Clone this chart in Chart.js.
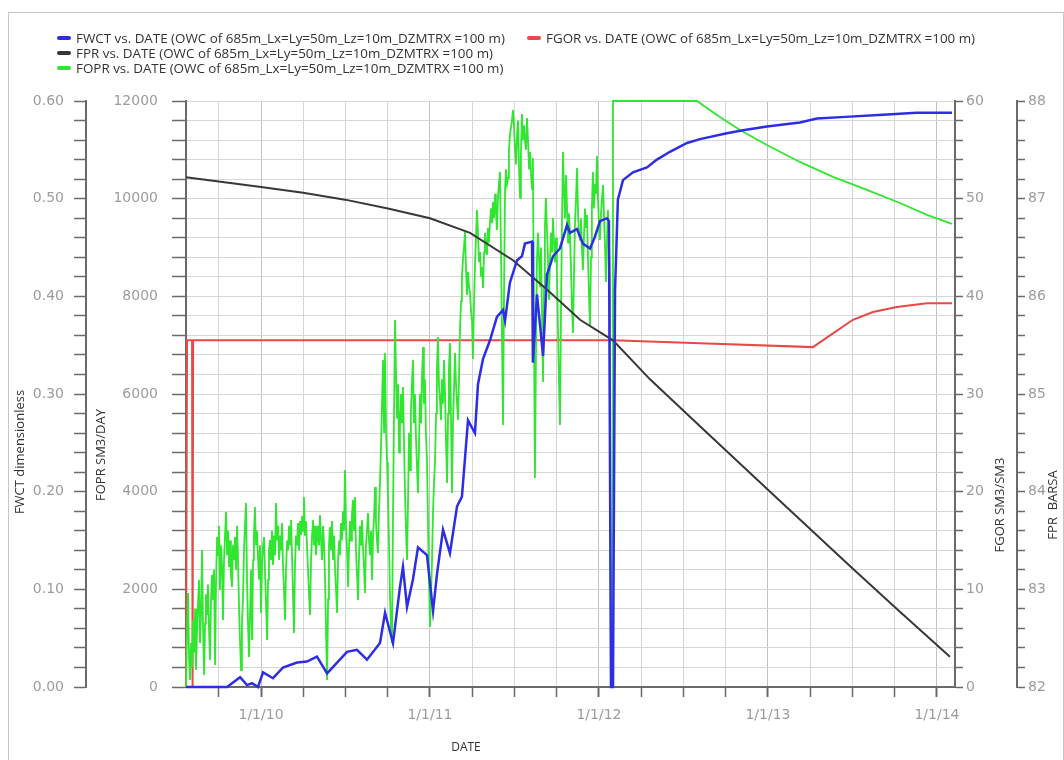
<!DOCTYPE html>
<html lang="en">
<head>
    <meta charset="UTF-8">
    <title>FWCT / FOPR / FGOR / FPR vs. DATE</title>
    <style>
        body {
            margin: 0;
            background: #fff;
            overflow: hidden;
            font-family: 'Open Sans', sans-serif;
        }
        #wrap {
            position: relative;
            width: 1064px;
            height: 760px;
        }
        #frame {
            position: absolute;
            left: 8px;
            top: 12px;
            width: 1054px;
            height: 770px;
            border: 1px solid #c6c6c6;
        }
        #chart {
            position: absolute;
            left: 0;
            top: 0;
        }
        .item {
            position: absolute;
            white-space: nowrap;
            font-size: 13.4px;
            line-height: 15px;
            color: #333;
        }
        .swatch {
            display: inline-block;
            width: 14px;
            height: 4px;
            border-radius: 2px;
            vertical-align: middle;
            margin-right: 5px;
            position: relative;
            top: -1px;
        }
    </style>
    <script src="https://cdn.jsdelivr.net/npm/chart.js"></script>
</head>
<body>
<div id="wrap">
    <div id="frame"></div>
    <canvas id="chart" width="1064" height="760"></canvas>
    <div id="legend"></div>
</div>

<script>
    // dates are decimal years
    const caseName = '(OWC of 685m_Lx=Ly=50m_Lz=10m_DZMTRX =100 m)';

    const fwctDates = [2009.556, 2009.799, 2009.876, 2009.917, 2009.947, 2009.982, 2010.012, 2010.071, 2010.130, 2010.213,
        2010.272, 2010.331, 2010.391, 2010.450, 2010.509, 2010.568, 2010.627, 2010.704, 2010.734, 2010.781,
        2010.822, 2010.840, 2010.864, 2010.899, 2010.929, 2010.982, 2011.018, 2011.041, 2011.077, 2011.118,
        2011.160, 2011.189, 2011.225, 2011.266, 2011.284, 2011.314, 2011.355, 2011.396, 2011.432, 2011.444,
        2011.473, 2011.515, 2011.544, 2011.562, 2011.604, 2011.609, 2011.633, 2011.651, 2011.669, 2011.692,
        2011.728, 2011.769, 2011.811, 2011.828, 2011.870, 2011.905, 2011.947, 2011.976, 2012.006, 2012.047,
        2012.059, 2012.071, 2012.083, 2012.095, 2012.112, 2012.142, 2012.201, 2012.284, 2012.343, 2012.420,
        2012.521, 2012.598, 2012.757, 2012.852, 2012.994, 2013.189, 2013.290, 2013.485, 2013.680, 2013.882,
        2014.089];
    const fwctValues = [0, 0, 0.010, 0.002, 0.004, 0, 0.015, 0.009, 0.020, 0.025,
        0.026, 0.031, 0.014, 0.025, 0.036, 0.038, 0.028, 0.045, 0.076, 0.045,
        0.102, 0.123, 0.082, 0.110, 0.143, 0.135, 0.078, 0.115, 0.161, 0.137,
        0.185, 0.195, 0.273, 0.260, 0.310, 0.336, 0.355, 0.379, 0.386, 0.375,
        0.414, 0.437, 0.441, 0.454, 0.456, 0.332, 0.402, 0.371, 0.339, 0.422,
        0.441, 0.449, 0.473, 0.465, 0.469, 0.454, 0.449, 0.461, 0.477, 0.480,
        0.477, 0, 0, 0.406, 0.499, 0.519, 0.527, 0.532, 0.540, 0.548,
        0.557, 0.561, 0.567, 0.570, 0.574, 0.578, 0.582, 0.584, 0.586, 0.588,
        0.588];

    const foprDates = [
        2009.556, 2009.562, 2009.568, 2009.574, 2009.580, 2009.586, 2009.592, 2009.598, 2009.604, 2009.610,
        2009.615, 2009.621, 2009.627, 2009.633, 2009.639, 2009.645, 2009.651, 2009.657, 2009.663, 2009.669,
        2009.674, 2009.680, 2009.686, 2009.692, 2009.698, 2009.704, 2009.710, 2009.716, 2009.722, 2009.728,
        2009.734, 2009.740, 2009.746, 2009.751, 2009.757, 2009.763, 2009.769, 2009.775, 2009.781, 2009.787,
        2009.793, 2009.799, 2009.805, 2009.811, 2009.817, 2009.822, 2009.828, 2009.834, 2009.840, 2009.846,
        2009.852, 2009.858, 2009.864, 2009.870, 2009.876, 2009.882, 2009.887, 2009.893, 2009.899, 2009.905,
        2009.911, 2009.917, 2009.923, 2009.929, 2009.935, 2009.941, 2009.947, 2009.953, 2009.958, 2009.964,
        2009.970, 2009.976, 2009.982, 2009.988, 2009.994, 2010.000, 2010.006, 2010.012, 2010.018, 2010.024,
        2010.030, 2010.036, 2010.042, 2010.047, 2010.053, 2010.059, 2010.065, 2010.071, 2010.077, 2010.083,
        2010.089, 2010.095, 2010.101, 2010.107, 2010.113, 2010.118, 2010.124, 2010.130, 2010.136, 2010.142,
        2010.148, 2010.154, 2010.160, 2010.166, 2010.172, 2010.178, 2010.184, 2010.190, 2010.195, 2010.201,
        2010.207, 2010.213, 2010.219, 2010.225, 2010.231, 2010.237, 2010.243, 2010.249, 2010.254, 2010.260,
        2010.266, 2010.272, 2010.278, 2010.284, 2010.290, 2010.296, 2010.302, 2010.308, 2010.314, 2010.320,
        2010.325, 2010.331, 2010.337, 2010.343, 2010.349, 2010.355, 2010.361, 2010.367, 2010.373, 2010.379,
        2010.385, 2010.391, 2010.397, 2010.402, 2010.408, 2010.414, 2010.420, 2010.426, 2010.432, 2010.438,
        2010.444, 2010.450, 2010.456, 2010.462, 2010.467, 2010.473, 2010.479, 2010.485, 2010.491, 2010.497,
        2010.503, 2010.509, 2010.515, 2010.521, 2010.527, 2010.533, 2010.538, 2010.544, 2010.550, 2010.556,
        2010.562, 2010.568, 2010.574, 2010.580, 2010.586, 2010.592, 2010.598, 2010.604, 2010.610, 2010.615,
        2010.621, 2010.627, 2010.633, 2010.639, 2010.645, 2010.651, 2010.657, 2010.663, 2010.669, 2010.675,
        2010.680, 2010.686, 2010.692, 2010.698, 2010.704, 2010.710, 2010.716, 2010.722, 2010.728, 2010.734,
        2010.740, 2010.746, 2010.751, 2010.757, 2010.763, 2010.769, 2010.775, 2010.781, 2010.787, 2010.793,
        2010.799, 2010.805, 2010.811, 2010.817, 2010.822, 2010.828, 2010.834, 2010.840, 2010.846, 2010.852,
        2010.858, 2010.864, 2010.870, 2010.876, 2010.882, 2010.887, 2010.893, 2010.899, 2010.905, 2010.911,
        2010.917, 2010.923, 2010.929, 2010.935, 2010.941, 2010.947, 2010.953, 2010.959, 2010.964, 2010.970,
        2010.976, 2010.982, 2010.988, 2010.994, 2011.000, 2011.006, 2011.012, 2011.018, 2011.024, 2011.030,
        2011.036, 2011.041, 2011.047, 2011.053, 2011.059, 2011.065, 2011.071, 2011.077, 2011.083, 2011.089,
        2011.095, 2011.101, 2011.107, 2011.112, 2011.118, 2011.124, 2011.130, 2011.136, 2011.142, 2011.148,
        2011.154, 2011.160, 2011.166, 2011.172, 2011.178, 2011.184, 2011.189, 2011.195, 2011.201, 2011.207,
        2011.213, 2011.219, 2011.225, 2011.231, 2011.237, 2011.243, 2011.249, 2011.254, 2011.260, 2011.266,
        2011.272, 2011.278, 2011.284, 2011.290, 2011.296, 2011.302, 2011.308, 2011.314, 2011.320, 2011.325,
        2011.331, 2011.337, 2011.343, 2011.349, 2011.355, 2011.361, 2011.367, 2011.373, 2011.379, 2011.385,
        2011.390, 2011.396, 2011.402, 2011.408, 2011.414, 2011.420, 2011.426, 2011.432, 2011.438, 2011.444,
        2011.450, 2011.456, 2011.462, 2011.467, 2011.473, 2011.479, 2011.485, 2011.491, 2011.497, 2011.503,
        2011.509, 2011.515, 2011.521, 2011.527, 2011.533, 2011.538, 2011.544, 2011.550, 2011.556, 2011.562,
        2011.568, 2011.574, 2011.580, 2011.586, 2011.592, 2011.598, 2011.604, 2011.609, 2011.615, 2011.621,
        2011.627, 2011.633, 2011.639, 2011.645, 2011.651, 2011.657, 2011.663, 2011.669, 2011.675, 2011.680,
        2011.686, 2011.692, 2011.698, 2011.704, 2011.710, 2011.716, 2011.722, 2011.728, 2011.734, 2011.740,
        2011.746, 2011.751, 2011.757, 2011.763, 2011.769, 2011.775, 2011.781, 2011.787, 2011.793, 2011.799,
        2011.805, 2011.811, 2011.817, 2011.822, 2011.828, 2011.834, 2011.840, 2011.846, 2011.852, 2011.858,
        2011.864, 2011.870, 2011.876, 2011.882, 2011.888, 2011.893, 2011.899, 2011.905, 2011.911, 2011.917,
        2011.923, 2011.929, 2011.935, 2011.941, 2011.947, 2011.953, 2011.958, 2011.964, 2011.970, 2011.976,
        2011.982, 2011.988, 2011.994, 2012.000, 2012.006, 2012.012, 2012.018, 2012.024, 2012.030, 2012.036,
        2012.041, 2012.047, 2012.053, 2012.059, 2012.065, 2012.071, 2012.080, 2012.083, 2012.580, 2012.698,
        2012.834, 2012.994, 2013.189, 2013.385, 2013.586, 2013.781, 2013.941, 2014.089];
    const foprValues = [
        0, 1200, 1925, 600, 143, 900, 400, 1372, 700, 1600,
        348, 1100, 1700, 2191, 900, 1500, 2806, 1200, 246, 1300,
        1900, 1475, 2100, 1200, 553, 1800, 2300, 1782, 2400, 451,
        2200, 3072, 2700, 3300, 1987, 2900, 2500, 1372, 2600, 3100,
        3584, 2700, 3200, 2458, 3000, 2300, 2048, 2900, 2600, 3072,
        2400, 3300, 2601, 1600, 900, 348, 1300, 1782, 2800, 3300,
        3768, 2200, 1300, 614, 1500, 2400, 963, 2600, 3100, 3686,
        2900, 3200, 2662, 2200, 2900, 1516, 2500, 2900, 3072, 2300,
        1700, 963, 2200, 2800, 3010, 2600, 3200, 2499, 3100, 2700,
        3768, 3000, 3300, 2601, 3100, 2800, 3359, 2500, 2000, 1372,
        2400, 3000, 2806, 3300, 2900, 3420, 2600, 1800, 1106, 2500,
        3100, 2900, 3359, 2800, 3400, 3113, 3500, 3200, 3891, 3100,
        3400, 2908, 2400, 1900, 1475, 2600, 3100, 3420, 2900, 3300,
        2700, 3010, 3300, 2900, 3523, 3000, 2600, 3300, 2908, 2200,
        1100, 143, 1800, 2900, 3277, 2800, 3400, 2601, 3100, 2400,
        2000, 1516, 2600, 3000, 2700, 3359, 3000, 3600, 3200, 4444,
        3300, 2800, 2048, 2900, 3400, 3000, 3500, 3830, 3200, 3891,
        2800, 2300, 1782, 2700, 3300, 2900, 3420, 2800, 2400, 1925,
        2900, 3200, 3564, 3000, 2700, 3200, 2191, 3100, 3500, 4096,
        3400, 3000, 2744, 3600, 4200, 4915, 5800, 6697, 5200, 6840,
        5200, 4600, 3973, 3000, 1900, 1200, 901, 3500, 5600, 7516,
        6400, 5500, 6200, 4800, 5325, 6000, 5400, 6144, 5000, 4000,
        3200, 2601, 3800, 5200, 4444, 5600, 6200, 6697, 5400, 6000,
        5100, 4500, 3973, 5000, 6000, 5400, 6400, 6963, 5800, 6300,
        5200, 4649, 3400, 2200, 1229, 1900, 2601, 3600, 4200, 4649,
        5600, 6500, 7168, 6200, 5900, 5468, 6300, 5800, 6697, 6000,
        5000, 4178, 5600, 6500, 7045, 5600, 3973, 5400, 6100, 6840,
        6200, 5800, 5468, 6400, 7400, 7900, 8400, 8745, 9000, 9318,
        8600, 8028, 8500, 8200, 8049, 7700, 7475, 6717, 7800, 8600,
        9200, 9769, 9300, 8700, 8909, 8400, 8600, 8171, 8900, 9300,
        9100, 8847, 9400, 9100, 9523, 9800, 9500, 9933, 9600, 10100,
        9800, 9359, 10000, 10300, 10547, 9000, 7200, 5366, 8000, 10179,
        10600, 10300, 10424, 11000, 11300, 11448, 11600, 11817, 11500, 11000,
        10700, 11305, 11600, 10600, 10015, 10900, 11735, 11200, 11500, 11202,
        11000, 11653, 11200, 10600, 10957, 10500, 10200, 10834, 7500, 4280,
        6800, 8745, 9300, 8800, 8192, 9000, 7600, 6246, 8200, 9400,
        10015, 9400, 8800, 7926, 8700, 9300, 8900, 9605, 9100, 8700,
        9200, 8540, 7400, 6300, 5366, 7600, 9500, 10957, 10200, 9600,
        10486, 9800, 9100, 9700, 9359, 8600, 7800, 7250, 8400, 9500,
        10000, 10629, 9700, 9300, 9155, 9600, 9000, 8540, 9200, 9800,
        9400, 9667, 8800, 8000, 7414, 8800, 9800, 10547, 9800, 10300,
        10100, 10875, 10000, 9500, 9155, 9700, 10000, 10281, 9600, 9000,
        8294, 9100, 9769, 9200, 8335, 0, 0, 12000, 12000, 11715,
        11407, 11100, 10752, 10445, 10179, 9912, 9667, 9482];

    const fgorDates = [2009.556, 2009.562, 2009.592, 2009.595, 2009.598, 2012.083, 2012.598, 2013.266, 2013.385, 2013.503,
        2013.621, 2013.763, 2013.941, 2014.089];
    const fgorValues = [0, 35.5, 35.5, 0, 35.5, 35.5, 35.2, 34.8, 36.2, 37.6,
        38.4, 38.9, 39.3, 39.3];

    const fprDates = [2009.556, 2010.000, 2010.249, 2010.497, 2010.751, 2011.000, 2011.237, 2011.491, 2011.692, 2011.888,
        2012.083, 2012.302, 2012.598, 2013.000, 2013.485, 2013.781, 2014.077];
    const fprValues = [87.22, 87.12, 87.06, 86.99, 86.90, 86.80, 86.65, 86.37, 86.07, 85.76,
        85.55, 85.15, 84.67, 84.02, 83.24, 82.77, 82.31];

    const series = [
        { name: 'FWCT vs. DATE ' + caseName, dates: fwctDates, values: fwctValues, axis: 'yFwct', color: '#2d2de6', width: 2.5 },
        { name: 'FPR vs. DATE ' + caseName, dates: fprDates, values: fprValues, axis: 'yFpr', color: '#383838', width: 2 },
        { name: 'FOPR vs. DATE ' + caseName, dates: foprDates, values: foprValues, axis: 'yFopr', color: '#30e630', width: 1.8 },
        { name: 'FGOR vs. DATE ' + caseName, dates: fgorDates, values: fgorValues, axis: 'yFgor', color: '#e84848', width: 2 }
    ];

    // legend: FWCT and FGOR on the first row, FPR and FOPR below
    const legendSpots = {
        yFwct: [57, 31], yFgor: [527, 31], yFpr: [57, 46], yFopr: [57, 61]
    };
    const legend = document.getElementById('legend');
    series.forEach(s => {
        const div = document.createElement('div');
        div.className = 'item';
        div.style.left = legendSpots[s.axis][0] + 'px';
        div.style.top = legendSpots[s.axis][1] + 'px';
        div.innerHTML = `<span class="swatch" style="background:${s.color}"></span>${s.name}`;
        legend.appendChild(div);
    });

    const isWhole = v => Math.abs(v - Math.round(v)) < 1e-6;
    const axisColor = '#6a6a6a';
    const gridColor = '#d6d6d6';

    Chart.defaults.font.family = "'DejaVu Sans', sans-serif";
    Chart.defaults.font.size = 14;
    Chart.defaults.color = '#9c9c9c';

    // axis titles sit below the middle of the axes, drawn by hand
    const axisTitles = {
        id: 'axisTitles',
        afterDraw(chart) {
            const ctx = chart.ctx;
            const sc = chart.scales;
            ctx.save();
            ctx.fillStyle = '#333';
            ctx.font = "12px 'Open Sans', sans-serif";
            ctx.textAlign = 'center';
            ctx.textBaseline = 'middle';
            ctx.fillText('DATE', chart.chartArea.left + 280, 748);
            ctx.font = "13px 'Open Sans', sans-serif";
            const titles = [
                ['FWCT dimensionless', sc.yFwct.left + 14, 452],
                ['FOPR SM3/DAY', sc.yFopr.left + 15, 455],
                ['FGOR SM3/SM3', sc.yFgor.left + 45, 505],
                ['FPR  BARSA', sc.yFpr.left + 36, 505]
            ];
            titles.forEach(([text, x, y]) => {
                ctx.save();
                ctx.translate(x, y);
                ctx.rotate(-Math.PI / 2);
                ctx.fillText(text, 0, 0);
                ctx.restore();
            });
            ctx.restore();
        }
    };

    function sideAxis(position, weight, min, max, step, width, tickLength, padding, label, onChart) {
        return {
            type: 'linear',
            position: position,
            weight: weight,
            min: min,
            max: max,
            afterFit: s => { s.width = width; },
            ticks: {
                stepSize: step,
                autoSkip: false,
                padding: padding,
                callback: label
            },
            grid: {
                drawOnChartArea: onChart,
                color: gridColor,
                tickLength: tickLength,
                tickColor: axisColor,
                tickWidth: 1.5
            },
            border: { color: axisColor, width: 2 }
        };
    }

    new Chart(document.getElementById('chart'), {
        type: 'line',
        data: {
            datasets: series.map(s => ({
                label: s.name,
                data: s.dates.map((d, i) => ({ x: d, y: s.values[i] })),
                yAxisID: s.axis,
                borderColor: s.color,
                backgroundColor: s.color,
                borderWidth: s.width,
                pointRadius: 0,
                tension: 0,
                clip: 4
            }))
        },
        options: {
            responsive: false,
            animation: false,
            layout: { padding: { left: 6, right: 0, top: 101, bottom: 0 } },
            plugins: {
                legend: { display: false },
                tooltip: { enabled: false }
            },
            scales: {
                x: {
                    type: 'linear',
                    position: 'bottom',
                    min: 2009.556,
                    max: 2014.107,
                    afterFit: s => { s.height = 73; },
                    ticks: {
                        stepSize: 0.25,
                        includeBounds: false,
                        autoSkip: false,
                        maxRotation: 0,
                        padding: 10,
                        callback: v => isWhole(v) ? '1/1/' + String(Math.round(v)).slice(2) : ''
                    },
                    grid: {
                        color: ctx => isWhole(ctx.tick.value) ? '#c2c2c2' : gridColor,
                        tickLength: 10,
                        tickColor: axisColor,
                        tickWidth: ctx => isWhole(ctx.tick.value) ? 2 : 1.5
                    },
                    border: { color: axisColor, width: 2 }
                },
                yFopr: sideAxis('left', 0, 0, 12000, 400, 100, 14, 14,
                    v => v % 2000 === 0 ? String(v) : '', true),
                yFwct: sideAxis('left', 1, 0, 0.6, 0.02, 80, 12, 10,
                    v => isWhole(v * 10) ? v.toFixed(2) : '', false),
                yFgor: sideAxis('right', 0, 0, 60, 2, 62, 8, 3,
                    v => v % 10 === 0 ? String(v) : '', false),
                yFpr: sideAxis('right', 1, 82, 88, 0.2, 47, 8, 3,
                    v => isWhole(v) ? String(Math.round(v)) : '', false)
            }
        },
        plugins: [axisTitles]
    });
</script>
</body>
</html>
